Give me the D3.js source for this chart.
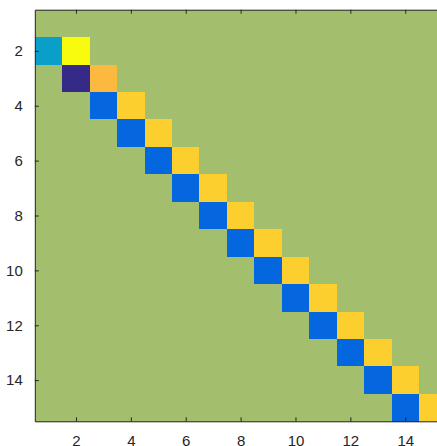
<!DOCTYPE html>
<html>
<head>
<meta charset="utf-8">
<script src="https://cdn.jsdelivr.net/npm/d3@7"></script>
<style>
  html, body { margin: 0; padding: 0; background: #fff; overflow: hidden; }
  svg { display: block; }
  text { font-family: "Liberation Sans", Arial, Helvetica, sans-serif; }
</style>
</head>
<body>
<svg id="chart" width="437" height="446"></svg>
<script>
// Matrix size and band values (row k has entries at columns k-1 and k)
const nRows = 15;
const nCols = 15;
const bandRows    = [2, 3, 4, 5, 6, 7, 8, 9, 10, 11, 12, 13, 14, 15];
const subDiagonal = [-0.9, -1.9, -1.5, -1.5, -1.5, -1.5, -1.5, -1.5, -1.5, -1.5, -1.5, -1.5, -1.5, -1.5];
const mainDiagonal = [1.0, 0.48, 0.64, 0.64, 0.64, 0.64, 0.64, 0.64, 0.64, 0.64, 0.64, 0.64, 0.64, 0.64];
const xTickValues = [2, 4, 6, 8, 10, 12, 14];
const yTickValues = [2, 4, 6, 8, 10, 12, 14];

// Build the full matrix as a list of cells
const matrix = d3.range(nRows).map(() => d3.range(nCols).map(() => 0));
bandRows.forEach((r, i) => {
  matrix[r - 1][r - 2] = subDiagonal[i];
  matrix[r - 1][r - 1] = mainDiagonal[i];
});
const cells = [];
matrix.forEach((row, ri) => row.forEach((v, ci) => cells.push({ row: ri + 1, col: ci + 1, value: v })));

// Parula-like colormap
const parulaStops = ["#352a87", "#0363e1", "#1485d4", "#06a7c6", "#38b99e", "#92bf73", "#d9ba56", "#fcb940", "#fcce2e", "#f9fb0e"];
const parulaPos   = [0, 0.125, 0.25, 0.375, 0.5, 0.625, 0.75, 0.82, 0.875, 1];
const parula = d3.scaleLinear().domain(parulaPos).range(parulaStops).interpolate(d3.interpolateRgb);

const ext = d3.extent(cells, d => d.value);
const color = d3.scaleLinear().domain(ext).range([0, 1]);

// Axes geometry (square image axes, partly beyond the right edge)
const axLeft = 34.8, axTop = 9.7, axSide = 411.6;
const x = d3.scaleLinear().domain([0.5, nCols + 0.5]).range([axLeft, axLeft + axSide]);
const y = d3.scaleLinear().domain([0.5, nRows + 0.5]).range([axTop, axTop + axSide]);

const svg = d3.select("#chart");
const axisColor = "#262626";

svg.append("g").selectAll("rect")
  .data(cells)
  .join("rect")
  .attr("x", d => x(d.col - 0.5))
  .attr("y", d => y(d.row - 0.5))
  .attr("width", x(1.5) - x(0.5) + 0.4)
  .attr("height", y(1.5) - y(0.5) + 0.4)
  .attr("fill", d => parula(color(d.value)))
  .attr("shape-rendering", "crispEdges");

// Axis box with inward ticks
const tickLen = 4;
const xBottom = d3.axisBottom(x).tickValues(xTickValues).tickSizeInner(-tickLen).tickSizeOuter(0).tickPadding(14);
const xTop = d3.axisTop(x).tickValues(xTickValues).tickSizeInner(-tickLen).tickSizeOuter(0).tickFormat("");
const yLeft = d3.axisLeft(y).tickValues(yTickValues).tickSizeInner(-tickLen).tickSizeOuter(0).tickPadding(12);
const yRight = d3.axisRight(y).tickValues(yTickValues).tickSizeInner(-tickLen).tickSizeOuter(0).tickFormat("");

function styleAxis(g) {
  g.select(".domain").attr("stroke", axisColor).attr("stroke-width", 1);
  g.selectAll(".tick line").attr("stroke", axisColor).attr("stroke-width", 1);
  g.selectAll(".tick text").attr("fill", axisColor).attr("font-size", 15)
    .attr("font-family", "'Liberation Sans', Arial, Helvetica, sans-serif");
}

svg.append("g").attr("transform", `translate(0,${axTop + axSide})`).call(xBottom).call(styleAxis);
svg.append("g").attr("transform", `translate(0,${axTop})`).call(xTop).call(styleAxis);
svg.append("g").attr("transform", `translate(${axLeft},0)`).call(yLeft).call(styleAxis);
svg.append("g").attr("transform", `translate(${axLeft + axSide},0)`).call(yRight).call(styleAxis);
</script>
</body>
</html>
